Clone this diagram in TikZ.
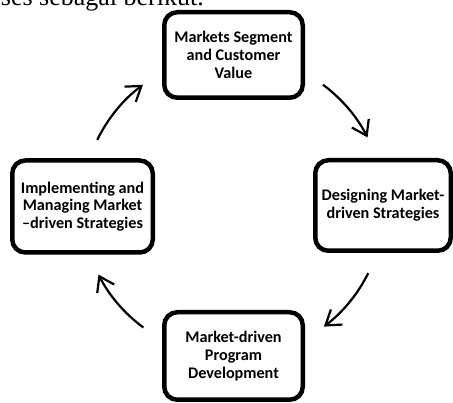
\documentclass[tikz,border=0pt]{standalone}
\usepackage{fontspec}
\setmainfont{Carlito}
\newfontfamily\serifx{Liberation Serif}
\usetikzlibrary{arrows.meta}
\begin{document}
\begin{tikzpicture}[x=1pt,y=-1pt,
  box/.style={draw, line width=4.5pt, rounded corners=13pt, align=center,
    font=\bfseries\fontsize{16.2}{17.8}\selectfont, inner sep=0pt},
  arr/.style={line width=2.2pt, -{Straight Barb[length=14pt,width=19pt]}}]
\useasboundingbox (0,0) rectangle (453,403);
\node[anchor=base east, inner sep=0pt, font=\serifx\fontsize{26}{30}\selectfont] (cap) at (204,6) {ses sebagai berikut.};
\node[box, minimum width=138.5pt, minimum height=85.5pt] (top) at (233.5,55) {Markets Segment\\and Customer\\Value};
\node[box, minimum width=135.5pt, minimum height=90.5pt] (right) at (383,205.5) {Designing Market-\\driven Strategies};
\node[box, minimum width=138.5pt, minimum height=87.5pt] (bottom) at (233.5,356) {Market-driven\\Program\\Development};
\node[box, minimum width=140.5pt, minimum height=92pt] (left) at (82.5,206.5) {Implementing and\\Managing Market\\\textendash driven Strategies};
\coordinate (c) at (233,206);
\draw[arr] ([shift={(-53.4:151)}]c) arc[start angle=-53.4, end angle=-27, radius=151];
\draw[arr] ([shift={(26.4:151)}]c) arc[start angle=26.4, end angle=53, radius=151];
\draw[arr] ([shift={(126.4:151)}]c) arc[start angle=126.4, end angle=153, radius=151];
\draw[arr] ([shift={(-154:151)}]c) arc[start angle=-154, end angle=-126.6, radius=151];
\end{tikzpicture}
\end{document}
